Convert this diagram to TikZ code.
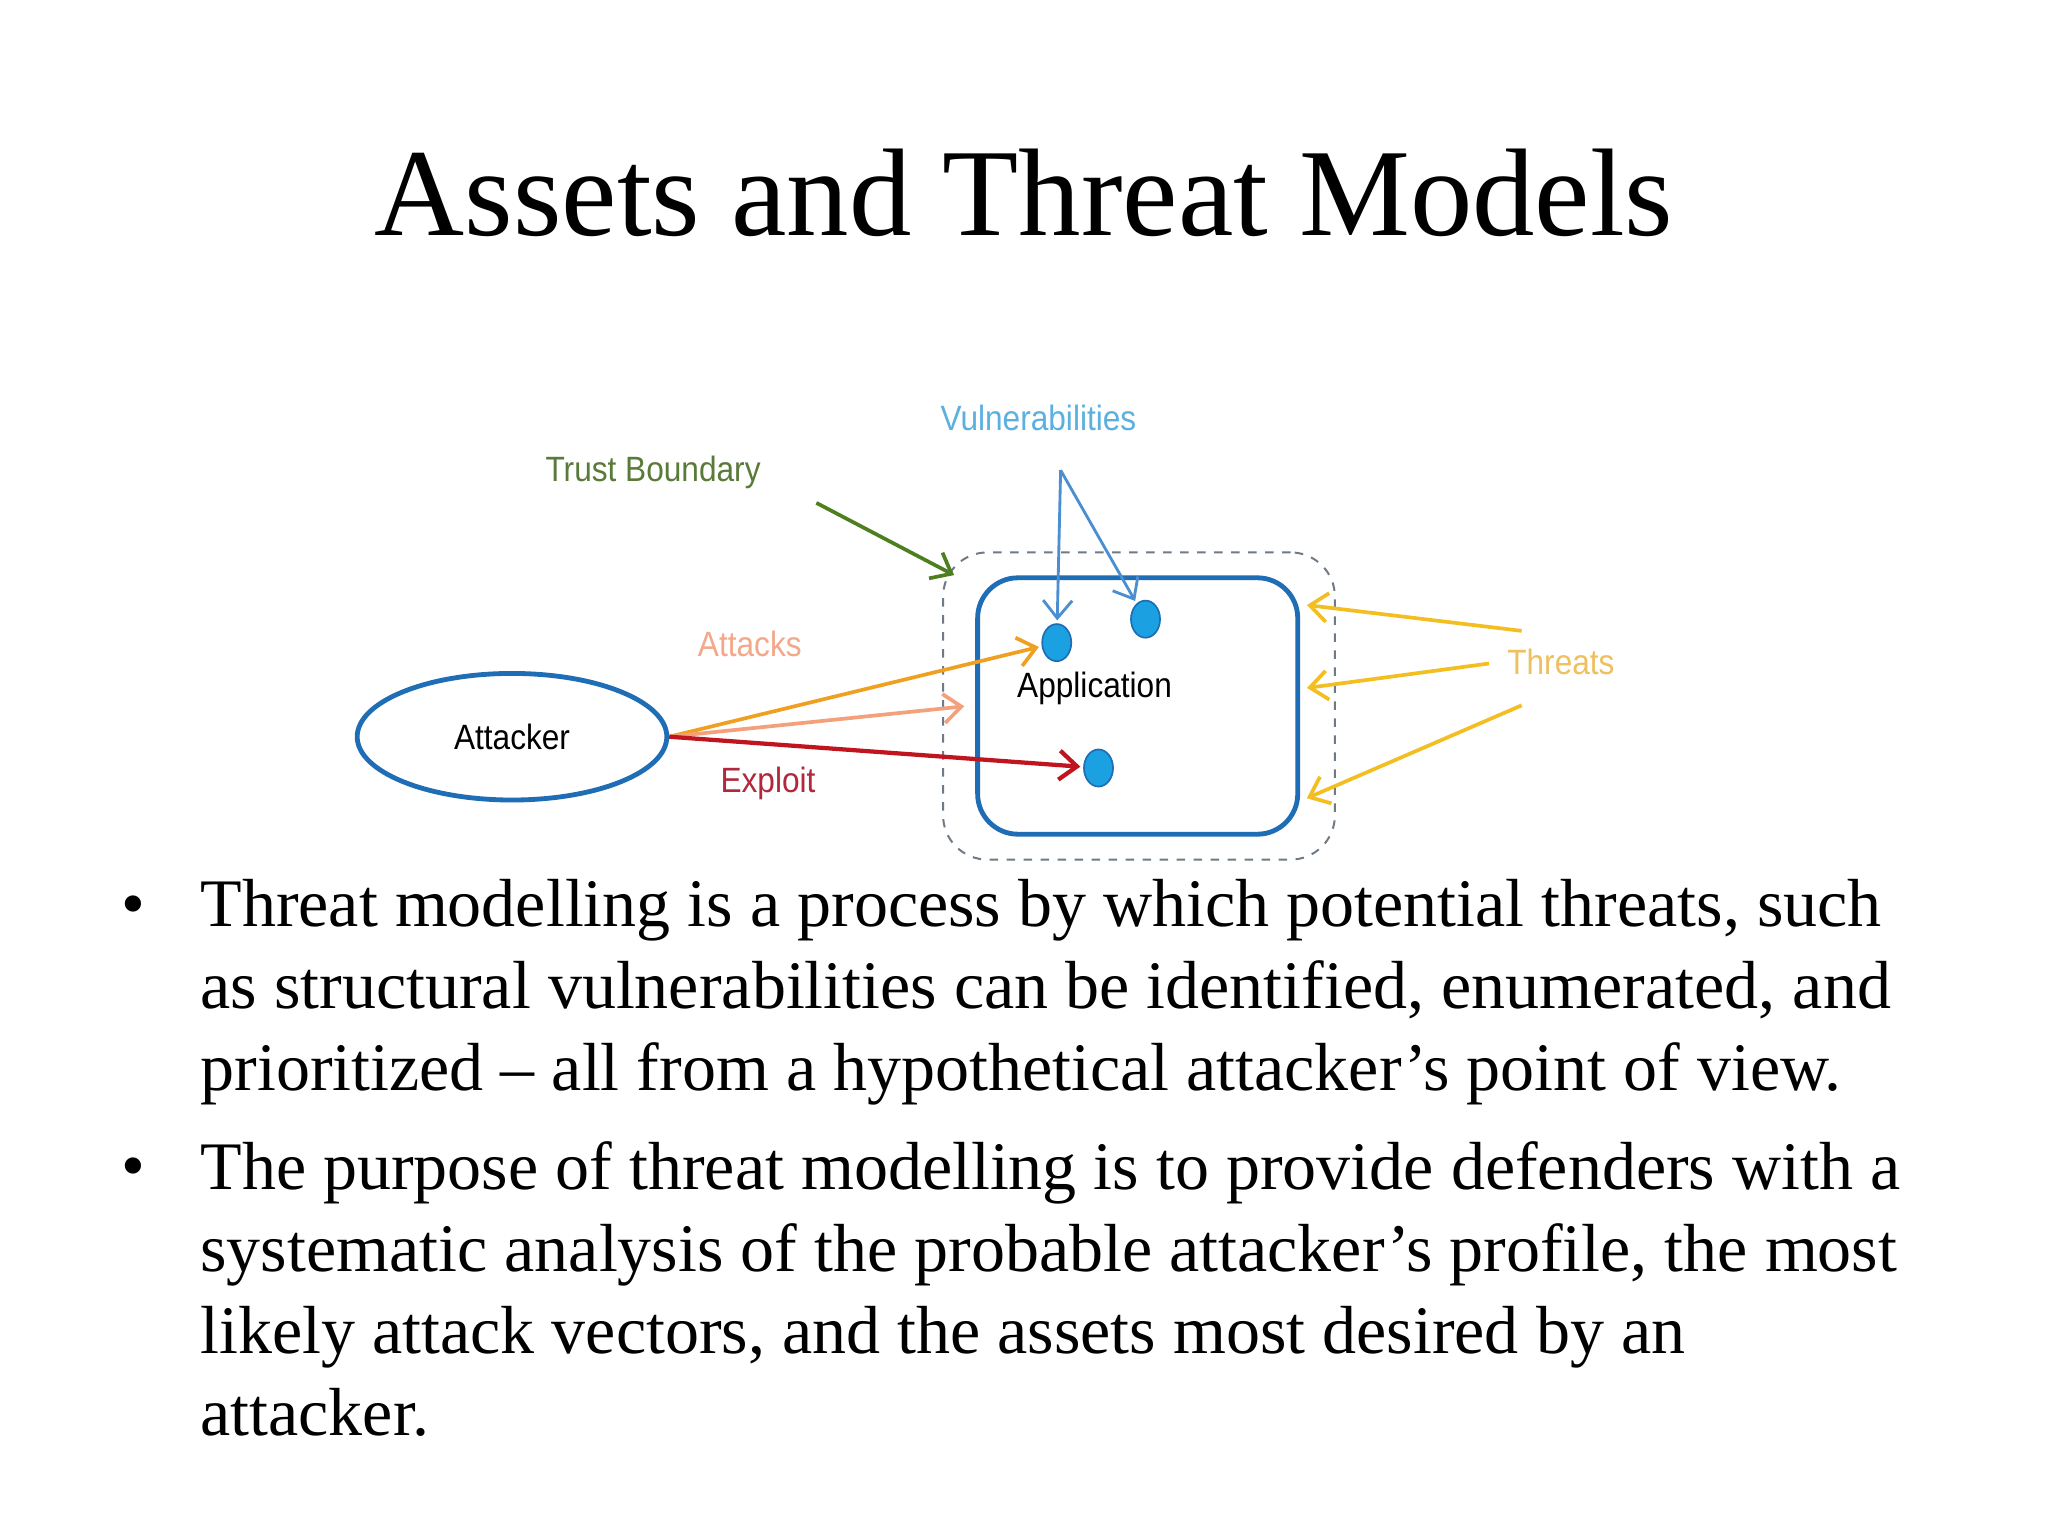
\documentclass[tikz,border=0pt]{standalone}
\usepackage{fontspec}
\setmainfont{Liberation Serif}
\newfontfamily\diafont[FakeStretch=0.9]{Liberation Sans}
\usetikzlibrary{arrows.meta,positioning,shapes.geometric}
\definecolor{appblue}{HTML}{1F6DB5}
\definecolor{dotfill}{HTML}{1BA1E2}
\definecolor{vuln}{HTML}{4A8FD0}
\definecolor{vulntxt}{HTML}{5BB0E0}
\definecolor{trust}{HTML}{4E7F1E}
\definecolor{trusttxt}{HTML}{5A7A3A}
\definecolor{attk}{HTML}{F0A020}
\definecolor{attk2}{HTML}{F4A07A}
\definecolor{attktxt}{HTML}{F2A88A}
\definecolor{expl}{HTML}{C0141E}
\definecolor{expltxt}{HTML}{B0283C}
\definecolor{thr}{HTML}{F2BE22}
\definecolor{thrtxt}{HTML}{EEC060}
\definecolor{bnd}{HTML}{6E7A85}

\begin{document}
\begin{tikzpicture}[
  >={Straight Barb[length=2.2mm,width=3.6mm]},
  lbl/.style={font=\diafont\fontsize{12.4}{14}\selectfont, inner sep=1pt},
  vdot/.style={ellipse, draw=appblue, fill=dotfill, line width=0.6pt, minimum width=0.36cm, minimum height=0.46cm, inner sep=0pt},
  arr/.style={->, line width=1.3pt, shorten >=1pt},
  body/.style={font=\fontsize{24}{28.9}\selectfont, align=left, inner sep=0pt, anchor=north west},
]
\fill[white] (0,0) rectangle (25.4,-19.05);
\useasboundingbox (0,0) rectangle (25.4,-19.05);

\node[font=\fontsize{44}{52}\selectfont, anchor=base, inner sep=0pt] (title) at (12.70,-2.92) {Assets and Threat Models};

% diagram
\node[draw=bnd, dashed, line width=0.7pt, rounded corners=0.55cm, minimum width=4.86cm, minimum height=3.81cm] (tb) at (14.126,-8.756) {};
\node[draw=appblue, line width=1.7pt, rounded corners=0.5cm, minimum width=3.97cm, minimum height=3.18cm] (app) at (14.110,-8.756) {};
\node[lbl, text=black] (applbl) at (13.575,-8.537) {Application};
\node[ellipse, draw=appblue, line width=1.7pt, minimum width=3.84cm, minimum height=1.57cm, lbl] (att) at (6.350,-9.137) {Attacker};

\node[vdot] (d1) at (13.106,-7.970) {};
\node[vdot] (d2) at (14.207,-7.679) {};
\node[vdot] (d3) at (13.624,-9.525) {};

\node[lbl, text=trusttxt] (tblbl) at (8.100,-5.864) {Trust Boundary};
\node[lbl, text=vulntxt] (vlbl) at (12.879,-5.184) {Vulnerabilities};
\node[lbl, text=attktxt] (albl) at (9.299,-7.986) {Attacks};
\node[lbl, text=expltxt] (elbl) at (9.525,-9.720) {Exploit};
\node[lbl, text=thrtxt] (tlbl) at (19.359,-8.213) {Threats};

\coordinate (tbfrom) at (10.125,-6.237);
\coordinate (vapex) at (13.154,-5.832);
\coordinate (th1) at (18.872,-7.824);
\coordinate (th2) at (18.467,-8.229);
\coordinate (th3) at (18.872,-8.748);

\draw[arr, color=trust] (tbfrom) -- ([xshift=0.18cm, yshift=-0.31cm]tb.north west);
\draw[arr, color=vuln, line width=1pt] (vapex) -- (d1);
\draw[arr, color=vuln, line width=1pt] (vapex) -- (d2);
\draw[arr, color=attk] (att.east) -- (d1);
\draw[arr, color=attk2] (att.east) -- ([xshift=-0.1cm]app.west);
\draw[arr, color=expl, line width=1.5pt] (att.east) -- (d3);
\draw[arr, color=thr] (th1) -- ([xshift=0.05cm, yshift=1.256cm]app.east);
\draw[arr, color=thr] (th2) -- ([xshift=0.05cm, yshift=0.219cm]app.east);
\draw[arr, color=thr] (th3) -- ([xshift=0.05cm, yshift=-1.158cm]app.east);

% bullets
\node[font=\fontsize{24}{28.9}\selectfont, anchor=base, inner sep=0pt] (b1) at (1.65,-11.486) {\textbullet};
\node[body] (p1) at (2.48,-10.90) {Threat modelling is a process by which potential threats, such\\as structural vulnerabilities can be identified, enumerated, and\\prioritized -- all from a hypothetical attacker's point of view.};
\node[font=\fontsize{24}{28.9}\selectfont, anchor=base, inner sep=0pt] (b2) at (1.65,-14.742) {\textbullet};
\node[body] (p2) at (2.48,-14.156) {The purpose of threat modelling is to provide defenders with a\\systematic analysis of the probable attacker's profile, the most\\likely attack vectors, and the assets most desired by an\\attacker.};

\end{tikzpicture}
\end{document}
